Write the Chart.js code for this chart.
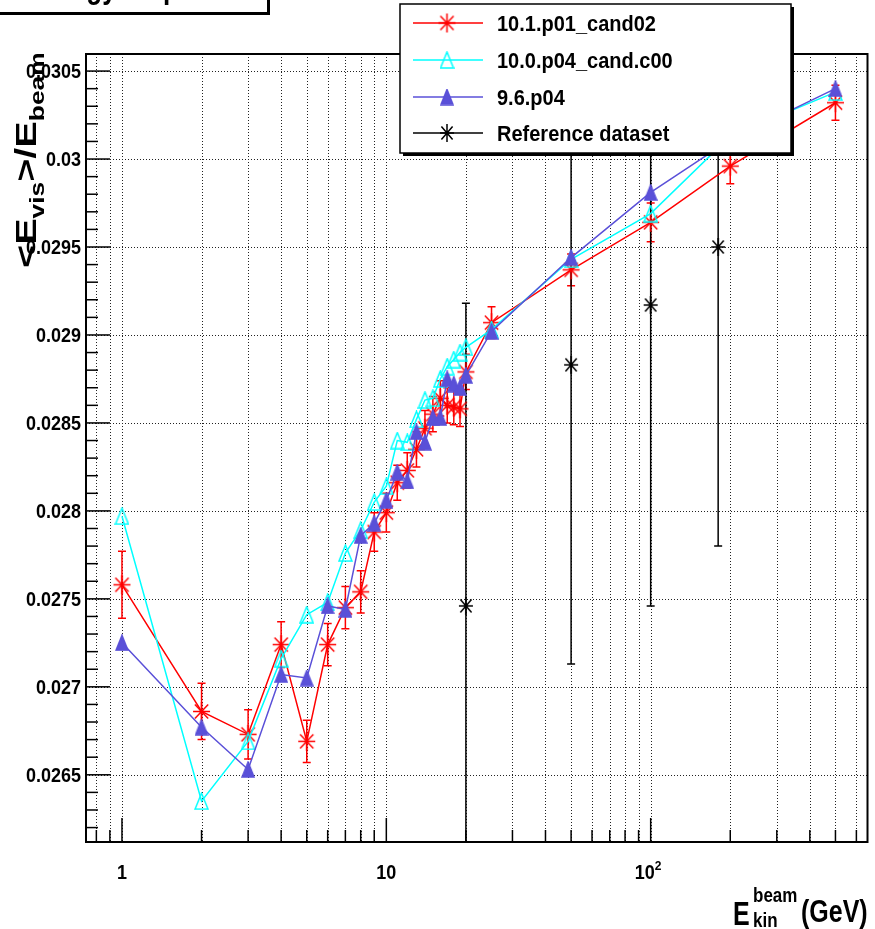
<!DOCTYPE html>
<html>
<head>
<meta charset="utf-8">
<script src="https://cdn.jsdelivr.net/npm/chart.js@4.4.0/dist/chart.umd.min.js"></script>
<style>
    html, body { margin: 0; padding: 0; background: #fff; }
    #contenedor { width: 875px; height: 929px; position: relative; }
</style>
</head>
<body>
<div id="contenedor"><canvas id="grafico"></canvas></div>
<script>
// Datos
const energias = [1, 2, 3, 4, 5, 6, 7, 8, 9, 10, 11, 12, 13, 14, 15, 16, 17, 18, 19, 20, 25, 50, 100, 200, 500];

const valoresCand02 = [0.02758, 0.02686, 0.02673, 0.02724, 0.02669, 0.02724, 0.02745, 0.02754, 0.02788, 0.02799,
    0.02816, 0.02823, 0.02835, 0.02847, 0.02855, 0.02864, 0.02860, 0.02859, 0.02858, 0.02879,
    0.02907, 0.02937, 0.02964, 0.02996, 0.03032];
const erroresCand02 = [0.00019, 0.00016, 0.00014, 0.00013, 0.00012, 0.00012, 0.00012, 0.00012, 0.00011, 0.00011,
    0.00010, 0.00010, 0.00010, 0.00010, 0.00010, 0.00010, 0.00010, 0.00010, 0.00010, 0.00010,
    0.00009, 0.00009, 0.00011, 0.00010, 0.00010];

const valoresCandC00 = [0.02797, 0.02635, 0.02669, 0.02716, 0.02741, 0.02748, 0.02776, 0.02789, 0.02805, 0.02814,
    0.02840, 0.02839, 0.02852, 0.02863, 0.02864, 0.02875, 0.02882, 0.02886, 0.02890, 0.02893,
    0.02903, 0.02943, 0.02969, 0.03013, 0.03038];

const valores96 = [0.02725, 0.02677, 0.02653, 0.02707, 0.02705, 0.02746, 0.02744, 0.02786, 0.02793, 0.02806,
    0.02822, 0.02817, 0.02845, 0.02839, 0.02853, 0.02853, 0.02875, 0.02872, 0.02870, 0.02877,
    0.02902, 0.02944, 0.02981, 0.03011, 0.03040];

const energiasRef = [20, 50, 100, 180];
const valoresRef = [0.02746, 0.02883, 0.02917, 0.02950];
const erroresRef = [0.00172, 0.00170, 0.00171, 0.00170];

const nombres = ['10.1.p01_cand02', '10.0.p04_cand.c00', '9.6.p04', 'Reference dataset'];

const yTicks = [0.0265, 0.027, 0.0275, 0.028, 0.0285, 0.029, 0.0295, 0.03, 0.0305];
const yTickLabels = ['0.0265', '0.027', '0.0275', '0.028', '0.0285', '0.029', '0.0295', '0.03', '0.0305'];
const xTicks = [1, 10, 100];
const xTickLabels = ['1', '10', '10'];
const xTickExponentes = ['', '', '2'];

const X_MIN = 0.731, X_MAX = 661;
const FUENTE = '"Liberation Sans", Arial, sans-serif';

// Marcadores estilo ROOT
function crearMarcador(tipo, color, w, h) {
    const c = document.createElement('canvas');
    c.width = w;
    c.height = h;
    const ctx = c.getContext('2d');
    ctx.strokeStyle = color;
    ctx.fillStyle = color;
    ctx.lineWidth = 1.5;
    const m = 1;
    if (tipo === 'estrella') {
        ctx.beginPath();
        ctx.moveTo(w / 2, m); ctx.lineTo(w / 2, h - m);
        ctx.moveTo(m, h / 2); ctx.lineTo(w - m, h / 2);
        ctx.moveTo(w * 0.15, h * 0.17); ctx.lineTo(w * 0.85, h * 0.83);
        ctx.moveTo(w * 0.85, h * 0.17); ctx.lineTo(w * 0.15, h * 0.83);
        ctx.stroke();
    } else {
        ctx.beginPath();
        ctx.moveTo(w / 2, m);
        ctx.lineTo(w - m, h - m);
        ctx.lineTo(m, h - m);
        ctx.closePath();
        if (tipo === 'trianguloLleno') ctx.fill();
        ctx.stroke();
    }
    return c;
}

const marcadorRojo = crearMarcador('estrella', '#ff0000', 19, 21);
const marcadorCian = crearMarcador('triangulo', '#00ffff', 15, 18);
const marcadorAzul = crearMarcador('trianguloLleno', '#5a50d8', 14, 17);
const marcadorNegro = crearMarcador('estrella', '#000000', 16, 20);

const colores = ['#ff0000', '#00ffff', '#5a50d8', '#000000'];
const marcadores = [marcadorRojo, marcadorCian, marcadorAzul, marcadorNegro];

function texto(ctx, str, x, y, font, align, sy) {
    ctx.save();
    ctx.translate(x, y);
    ctx.scale(1, sy);
    ctx.font = font;
    ctx.textAlign = align;
    ctx.textBaseline = 'alphabetic';
    ctx.fillStyle = '#000';
    ctx.fillText(str, 0, 0);
    ctx.restore();
}

function dibujarErrores(chart, indice, errores, color) {
    const ctx = chart.ctx;
    const area = chart.chartArea;
    const meta = chart.getDatasetMeta(indice);
    const datos = chart.data.datasets[indice].data;
    const yScale = chart.scales.y;
    ctx.save();
    ctx.beginPath();
    ctx.rect(area.left, area.top, area.right - area.left, area.bottom - area.top);
    ctx.clip();
    ctx.strokeStyle = color;
    ctx.lineWidth = 1.5;
    meta.data.forEach((p, i) => {
        const yArriba = yScale.getPixelForValue(datos[i].y + errores[i]);
        const yAbajo = yScale.getPixelForValue(datos[i].y - errores[i]);
        ctx.beginPath();
        ctx.moveTo(p.x, yArriba); ctx.lineTo(p.x, yAbajo);
        ctx.moveTo(p.x - 4, yArriba); ctx.lineTo(p.x + 4, yArriba);
        ctx.moveTo(p.x - 4, yAbajo); ctx.lineTo(p.x + 4, yAbajo);
        ctx.stroke();
    });
    ctx.restore();
}

function valoresMenoresX(min, max) {
    const lista = [];
    [0.1, 1, 10, 100].forEach(d => {
        for (let k = 1; k <= 9; k++) {
            const v = k * d;
            if (v >= min && v <= max) lista.push(v);
        }
    });
    return lista;
}

const pluginDecoracion = {
    id: 'decoracion',
    beforeDatasetsDraw(chart) {
        const ctx = chart.ctx;
        const area = chart.chartArea;
        const xs = chart.scales.x;
        const ys = chart.scales.y;

        // Rejilla punteada
        ctx.save();
        ctx.strokeStyle = '#222';
        ctx.lineWidth = 1;
        ctx.setLineDash([1, 2]);
        valoresMenoresX(xs.min, xs.max).forEach(v => {
            const px = Math.round(xs.getPixelForValue(v)) + 0.5;
            ctx.beginPath();
            ctx.moveTo(px, area.top); ctx.lineTo(px, area.bottom);
            ctx.stroke();
        });
        yTicks.forEach(v => {
            const py = Math.round(ys.getPixelForValue(v)) + 0.5;
            ctx.beginPath();
            ctx.moveTo(area.left, py); ctx.lineTo(area.right, py);
            ctx.stroke();
        });
        ctx.restore();

        dibujarErrores(chart, 0, erroresCand02, '#ff0000');
        dibujarErrores(chart, 3, erroresRef, '#000000');
    },
    afterDatasetsDraw(chart) {
        const ctx = chart.ctx;
        const area = chart.chartArea;
        const xs = chart.scales.x;
        const ys = chart.scales.y;

        // Marco
        ctx.save();
        ctx.strokeStyle = '#000';
        ctx.lineWidth = 2;
        ctx.strokeRect(area.left, area.top, area.right - area.left, area.bottom - area.top);

        // Marcas del eje Y
        ctx.lineWidth = 1.5;
        for (let v = 0.0262; v <= ys.max + 1e-9; v += 0.0001) {
            const py = ys.getPixelForValue(v);
            const esMayor = yTicks.some(t => Math.abs(t - v) < 1e-8);
            ctx.beginPath();
            ctx.moveTo(area.left, py);
            ctx.lineTo(area.left + (esMayor ? 24 : 12), py);
            ctx.stroke();
        }
        // Marcas del eje X
        valoresMenoresX(xs.min, xs.max).forEach(v => {
            const px = xs.getPixelForValue(v);
            const esMayor = xTicks.includes(v);
            ctx.beginPath();
            ctx.moveTo(px, area.bottom);
            ctx.lineTo(px, area.bottom - (esMayor ? 24 : 12));
            ctx.stroke();
        });
        ctx.restore();

        // Etiquetas de los ejes
        yTicks.forEach((v, i) => {
            texto(ctx, yTickLabels[i], 81, ys.getPixelForValue(v) + 7, 'bold 18px ' + FUENTE, 'right', 1.1);
        });
        xTicks.forEach((v, i) => {
            const px = xs.getPixelForValue(v);
            if (xTickExponentes[i]) {
                texto(ctx, xTickLabels[i], px - 6, 879, 'bold 18px ' + FUENTE, 'center', 1.08);
                texto(ctx, xTickExponentes[i], px + 4, 870, 'bold 12px ' + FUENTE, 'left', 1.1);
            } else {
                texto(ctx, xTickLabels[i], px, 879, 'bold 18px ' + FUENTE, 'center', 1.08);
            }
        });

        // Título del eje X
        texto(ctx, 'E', 733, 925, 'bold 25px ' + FUENTE, 'left', 1.3);
        texto(ctx, 'beam', 753, 902, 'bold 17px ' + FUENTE, 'left', 1.2);
        texto(ctx, 'kin', 753, 927, 'bold 17px ' + FUENTE, 'left', 1.2);
        texto(ctx, '(GeV)', 801, 922, 'bold 25px ' + FUENTE, 'left', 1.27);

        // Título del eje Y (rotado)
        ctx.save();
        ctx.translate(36, 268);
        ctx.rotate(-Math.PI / 2);
        ctx.scale(1.32, 1);
        ctx.fillStyle = '#000';
        ctx.textBaseline = 'alphabetic';
        let cx = 0;
        const piezas = [
            ['<', 30, 0], ['E', 30, 0], ['vis', 20, 8], ['>', 30, 0], ['/', 30, 0], ['E', 30, 0], ['beam', 20, 8]
        ];
        piezas.forEach(([s, tam, dy]) => {
            ctx.font = 'bold ' + tam + 'px ' + FUENTE;
            ctx.fillText(s, cx, dy);
            cx += ctx.measureText(s).width;
        });
        ctx.restore();

        // Leyenda
        const lx = 400, ly = 4, lw = 391, lh = 149;
        ctx.save();
        ctx.fillStyle = '#000';
        ctx.fillRect(lx + 3, ly + 3, lw, lh);
        ctx.fillStyle = '#fff';
        ctx.fillRect(lx, ly, lw, lh);
        ctx.strokeStyle = '#000';
        ctx.lineWidth = 1.5;
        ctx.strokeRect(lx, ly, lw, lh);
        const filas = [23, 60, 97, 133];
        filas.forEach((fy, i) => {
            ctx.strokeStyle = colores[i];
            ctx.lineWidth = 1.5;
            ctx.beginPath();
            ctx.moveTo(413, fy); ctx.lineTo(483, fy);
            ctx.stroke();
            const m = marcadores[i];
            ctx.drawImage(m, 447 - m.width / 2, fy - m.height / 2);
            texto(ctx, nombres[i], 497, fy + 8, 'bold 20px ' + FUENTE, 'left', 1.12);
        });
        ctx.restore();

        // Caja del título (recortada arriba)
        ctx.save();
        ctx.fillStyle = '#000';
        ctx.fillRect(0, 0, 270, 15);
        ctx.fillStyle = '#fff';
        ctx.fillRect(0, 0, 267, 12);
        ctx.restore();
        texto(ctx, 'Energy response', 134, -2, 'bold 26px ' + FUENTE, 'center', 1.27);
    }
};

new Chart(document.getElementById('grafico'), {
    type: 'line',
    data: {
        datasets: [
            {
                label: nombres[0],
                data: energias.map((e, i) => ({ x: e, y: valoresCand02[i] })),
                borderColor: colores[0],
                borderWidth: 1.5,
                pointStyle: marcadorRojo,
                pointRadius: 6,
                fill: false,
                tension: 0,
                order: 3
            },
            {
                label: nombres[1],
                data: energias.map((e, i) => ({ x: e, y: valoresCandC00[i] })),
                borderColor: colores[1],
                borderWidth: 1.5,
                pointStyle: marcadorCian,
                pointRadius: 6,
                fill: false,
                tension: 0,
                order: 2
            },
            {
                label: nombres[2],
                data: energias.map((e, i) => ({ x: e, y: valores96[i] })),
                borderColor: colores[2],
                borderWidth: 1.5,
                pointStyle: marcadorAzul,
                pointRadius: 6,
                fill: false,
                tension: 0,
                order: 1
            },
            {
                label: nombres[3],
                data: energiasRef.map((e, i) => ({ x: e, y: valoresRef[i] })),
                borderColor: colores[3],
                borderWidth: 1.5,
                pointStyle: marcadorNegro,
                pointRadius: 6,
                showLine: false,
                order: 0
            }
        ]
    },
    options: {
        responsive: true,
        maintainAspectRatio: false,
        animation: false,
        events: [],
        layout: { padding: { left: 86, right: 7, top: 54, bottom: 87 } },
        scales: {
            x: {
                type: 'logarithmic',
                min: X_MIN,
                max: X_MAX,
                bounds: 'data',
                display: false,
                afterBuildTicks: s => { s.min = X_MIN; s.max = X_MAX; }
            },
            y: { type: 'linear', min: 0.026118, max: 0.030597, display: false }
        },
        plugins: {
            legend: { display: false },
            tooltip: { enabled: false }
        }
    },
    plugins: [pluginDecoracion]
});
</script>
</body>
</html>
